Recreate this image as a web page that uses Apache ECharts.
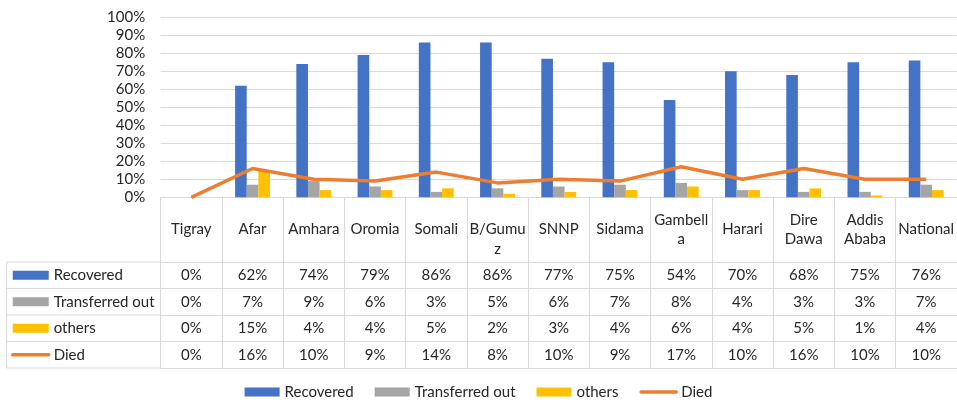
<!DOCTYPE html>
<html>
<head>
<meta charset="utf-8">
<script src="https://cdn.jsdelivr.net/npm/echarts@6/dist/echarts.min.js"></script>
<style>
  html, body { margin: 0; padding: 0; background: #ffffff; }
  #chart { width: 957px; height: 403px; }
</style>
</head>
<body>
<div id="chart"></div>
<script>
// Outcome shares by region (percent)
const regions = ['Tigray', 'Afar', 'Amhara', 'Oromia', 'Somali', 'B/Gumuz', 'SNNP', 'Sidama', 'Gambella', 'Harari', 'Dire Dawa', 'Addis Ababa', 'National'];
// Region names as they wrap inside the table header cells
const headerLabels = ['Tigray', 'Afar', 'Amhara', 'Oromia', 'Somali', '\nB/Gumu\nz', 'SNNP', 'Sidama', 'Gambell\na', 'Harari', 'Dire\nDawa', 'Addis\nAbaba', 'National'];
const recovered      = [0, 62, 74, 79, 86, 86, 77, 75, 54, 70, 68, 75, 76];
const transferredOut = [0, 7, 9, 6, 3, 5, 6, 7, 8, 4, 3, 3, 7];
const others         = [0, 15, 4, 4, 5, 2, 3, 4, 6, 4, 5, 1, 4];
const died           = [0, 16, 10, 9, 14, 8, 10, 9, 17, 10, 16, 10, 10];
const seriesNames = ['Recovered', 'Transferred out', 'others', 'Died'];

// Layout
const W = 957, H = 403;
const GRID_LEFT = 160.7, GRID_TOP = 17.3, PLOT_BOTTOM = 197.3;
const HEADER_H = 64.7, ROW_H = 26.5;
const TABLE_LEFT = 6.7;
const FONT = 'Lato, "Open Sans", sans-serif';
const TEXT = '#262626';
const RULE = '#D9D9D9';
const FS = 15;

const rows = [recovered, transferredOut, others, died];

const xAxes = [{
  type: 'category',
  data: regions,
  position: 'bottom',
  axisLine: { show: true, lineStyle: { color: RULE, width: 1 } },
  axisTick: { show: true, interval: 0, length: HEADER_H, lineStyle: { color: RULE, width: 1 } },
  axisLabel: {
    interval: 0, margin: HEADER_H / 2, verticalAlign: 'middle', lineHeight: 19.5,
    color: TEXT, fontSize: FS, fontFamily: FONT,
    formatter: (v, i) => headerLabels[i]
  }
}];
rows.forEach((vals, k) => {
  xAxes.push({
    type: 'category',
    data: regions,
    position: 'bottom',
    offset: HEADER_H + k * ROW_H,
    axisLine: { show: true, lineStyle: { color: RULE, width: 1 } },
    axisTick: { show: true, interval: 0, length: ROW_H, lineStyle: { color: RULE, width: 1 } },
    axisLabel: {
      interval: 0, margin: ROW_H / 2, verticalAlign: 'middle',
      color: TEXT, fontSize: FS, fontFamily: FONT,
      formatter: (v, i) => vals[i] + '%'
    }
  });
});
// bottom border of the table
xAxes.push({
  type: 'category',
  data: regions,
  position: 'bottom',
  offset: HEADER_H + rows.length * ROW_H,
  axisLine: { show: true, lineStyle: { color: RULE, width: 1 } },
  axisTick: { show: false },
  axisLabel: { show: false }
});

// Left column of the table (series keys) borders
const tableGraphics = [];
const firstRowY = PLOT_BOTTOM + HEADER_H;
const lastRowY = firstRowY + rows.length * ROW_H;
tableGraphics.push({
  type: 'line', silent: true,
  shape: { x1: TABLE_LEFT, y1: firstRowY, x2: TABLE_LEFT, y2: lastRowY },
  style: { stroke: RULE, lineWidth: 1 }
});
for (let k = 0; k <= rows.length; k++) {
  const y = firstRowY + k * ROW_H;
  tableGraphics.push({
    type: 'line', silent: true,
    shape: { x1: TABLE_LEFT, y1: y, x2: GRID_LEFT, y2: y },
    style: { stroke: RULE, lineWidth: 1 }
  });
}

// Died key is a plain line without a marker
const legendData = [
  { name: 'Recovered', icon: 'rect' },
  { name: 'Transferred out', icon: 'rect' },
  { name: 'others', icon: 'rect' },
  { name: 'Died', itemStyle: { opacity: 0 } }
];
const legendText = { color: TEXT, fontSize: FS, fontFamily: FONT, lineHeight: 16 };

const chart = echarts.init(document.getElementById('chart'), null, { renderer: 'canvas', width: W, height: H });
chart.setOption({
  animation: false,
  backgroundColor: '#ffffff',
  grid: { left: GRID_LEFT, right: -1, top: GRID_TOP, bottom: H - PLOT_BOTTOM, containLabel: false },
  legend: [{
    orient: 'vertical',
    left: 11, top: firstRowY + ROW_H / 2 - 8,
    padding: 0, itemGap: ROW_H - 16,
    itemWidth: 36, itemHeight: 9,
    selectedMode: false,
    lineStyle: { width: 3.5, cap: 'round' },
    textStyle: legendText,
    data: legendData
  }, {
    orient: 'horizontal',
    left: 'center', top: 384,
    padding: 0, itemGap: 21,
    itemWidth: 35, itemHeight: 9,
    selectedMode: false,
    lineStyle: { width: 3.5, cap: 'round' },
    textStyle: legendText,
    data: legendData
  }],
  xAxis: xAxes,
  yAxis: {
    type: 'value', min: 0, max: 100, interval: 10,
    axisLine: { show: false }, axisTick: { show: false },
    splitLine: { lineStyle: { color: RULE, width: 1 } },
    axisLabel: { formatter: '{value}%', margin: 15.5, color: TEXT, fontSize: FS, fontFamily: FONT }
  },
  graphic: tableGraphics,
  series: [
    { name: seriesNames[0], type: 'bar', data: recovered, itemStyle: { color: '#4472C4' }, barGap: '0%', barCategoryGap: '43%' },
    { name: seriesNames[1], type: 'bar', data: transferredOut, itemStyle: { color: '#A5A5A5' } },
    { name: seriesNames[2], type: 'bar', data: others, itemStyle: { color: '#FFC000' } },
    { name: seriesNames[3], type: 'line', data: died, symbol: 'none', z: 5,
      lineStyle: { color: '#ED7D31', width: 3.5, join: 'round' }, itemStyle: { color: '#ED7D31' } }
  ]
});
</script>
</body>
</html>
